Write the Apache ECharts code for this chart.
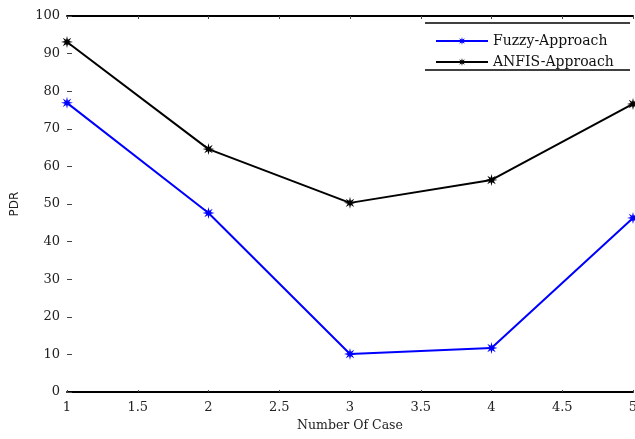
<!DOCTYPE html>
<html><head><meta charset="utf-8">
<script src="https://cdn.jsdelivr.net/npm/echarts@6/dist/echarts.min.js"></script>
<style>html,body{margin:0;padding:0;background:#fff}#c{width:635px;height:439px}</style>
</head><body><div id="c"></div>
<script>
const cases = [1, 2, 3, 4, 5];
const fuzzy = [76.9, 47.6, 10.1, 11.7, 46.3];
const anfis = [93.1, 64.6, 50.3, 56.4, 76.6];
const seriesNames = ['Fuzzy-Approach', 'ANFIS-Approach'];

const star = 'path://M10,0 L3.7,1.5 L7.07,7.07 L1.5,3.7 L0,10 L-1.5,3.7 L-7.07,7.07 L-3.7,1.5 L-10,0 L-3.7,-1.5 L-7.07,-7.07 L-1.5,-3.7 L0,-10 L1.5,-3.7 L7.07,-7.07 L3.7,-1.5 Z';
const serif = 'DejaVu Serif';
const chart = echarts.init(document.getElementById('c'));
function pts(v){ return cases.map((x,i)=>[x,v[i]]); }
chart.setOption({
  animation:false,
  backgroundColor:'#fff',
  grid:{left:67,right:2,top:16,bottom:47,containLabel:false,outerBoundsMode:'none'},
  legend:{
    orient:'vertical', left:430, top:29, itemWidth:52, itemHeight:10, itemGap:7,
    textStyle:{fontFamily:serif,fontSize:14,color:'#111'},
    data:seriesNames
  },
  graphic:[
    {type:'line',shape:{x1:425,y1:23,x2:630,y2:23},style:{stroke:'#000',lineWidth:1.5}},
    {type:'line',shape:{x1:425,y1:70,x2:630,y2:70},style:{stroke:'#000',lineWidth:1.5}}
  ],
  xAxis:[{
    type:'value',min:1,max:5,interval:0.5,position:'bottom',
    name:'Number Of Case',nameLocation:'middle',nameGap:24,
    nameTextStyle:{fontFamily:serif,fontSize:12.5,color:'#222'},
    axisLine:{show:true,lineStyle:{color:'#000',width:2}},
    axisTick:{show:true,inside:true,length:2,lineStyle:{color:'#444'}},
    axisLabel:{fontFamily:serif,fontSize:13,color:'#222',margin:9},
    splitLine:{show:false}
  },{
    type:'value',min:1,max:5,interval:0.5,position:'top',
    axisLine:{show:true,lineStyle:{color:'#000',width:2}},
    axisTick:{show:true,inside:true,length:3,lineStyle:{color:'#444'}},
    axisLabel:{show:false},splitLine:{show:false}
  }],
  yAxis:{
    type:'value',min:0,max:100,interval:10,
    name:'PDR',nameLocation:'middle',nameGap:46,nameRotate:90,
    nameTextStyle:{fontFamily:'DejaVu Sans',fontSize:12,color:'#222'},
    axisLine:{show:false},
    axisTick:{show:true,inside:true,length:5,lineStyle:{color:'#444'}},
    axisLabel:{fontFamily:serif,fontSize:13,color:'#222',margin:7},
    splitLine:{show:false}
  },
  series:[
    {name:seriesNames[0],type:'line',data:pts(fuzzy),symbol:star,symbolSize:12,
     lineStyle:{color:'#0000ff',width:2},itemStyle:{color:'#0000ff'},color:'#0000ff'},
    {name:seriesNames[1],type:'line',data:pts(anfis),symbol:star,symbolSize:12,
     lineStyle:{color:'#000',width:2},itemStyle:{color:'#000'},color:'#000'}
  ]
});
</script></body></html>
